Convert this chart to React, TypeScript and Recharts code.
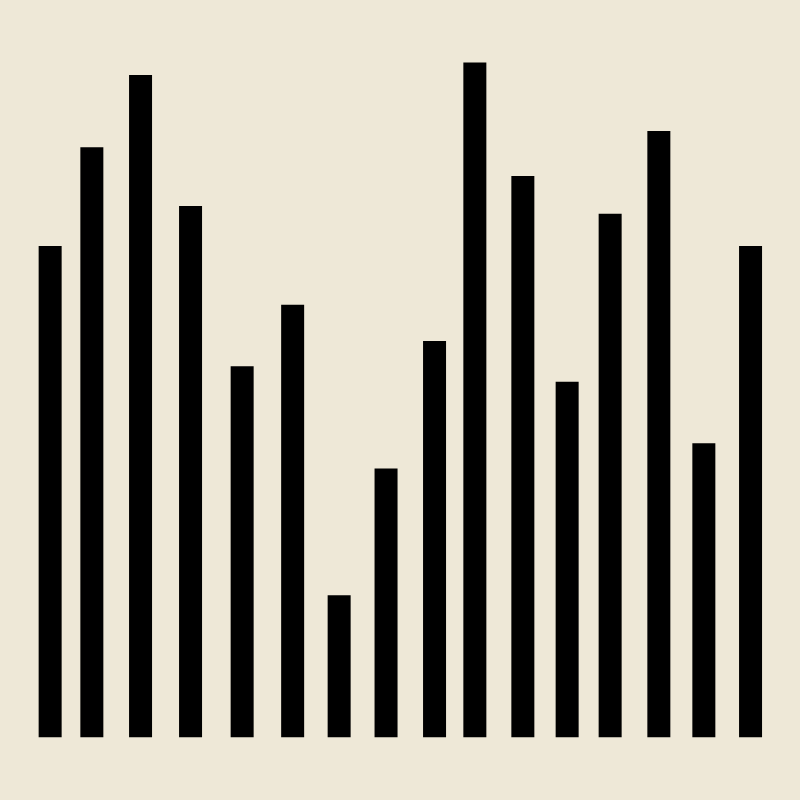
import React from 'react';
import { BarChart, Bar, XAxis, YAxis } from 'recharts';

// bar centre positions (x) and heights
const positions = [49.8, 91.5, 140.2, 190.2, 241.8, 292.3, 338.8, 385.7, 434.2, 474.5, 522.5, 566.8, 609.8, 658.5, 703.5, 750.2];
const values = [70.2, 84.3, 94.6, 75.9, 53.0, 61.8, 20.3, 38.4, 56.6, 96.4, 80.2, 50.8, 74.8, 86.6, 42.0, 70.2];

const data = positions.map((x, i) => ({ x, value: values[i] }));

export default function App() {
  return (
    <div style={{ position: 'fixed', left: 0, top: 0, width: 800, height: 800, background: '#EEE8D7' }}>
      <BarChart
        width={800}
        height={800}
        data={data}
        margin={{ top: 37.3, right: 0, bottom: 62.7, left: 0 }}
      >
        <XAxis type="number" dataKey="x" domain={[0, 800]} hide />
        <YAxis type="number" domain={[0, 100]} hide />
        <Bar dataKey="value" fill="#000000" barSize={23} isAnimationActive={false} />
      </BarChart>
    </div>
  );
}
